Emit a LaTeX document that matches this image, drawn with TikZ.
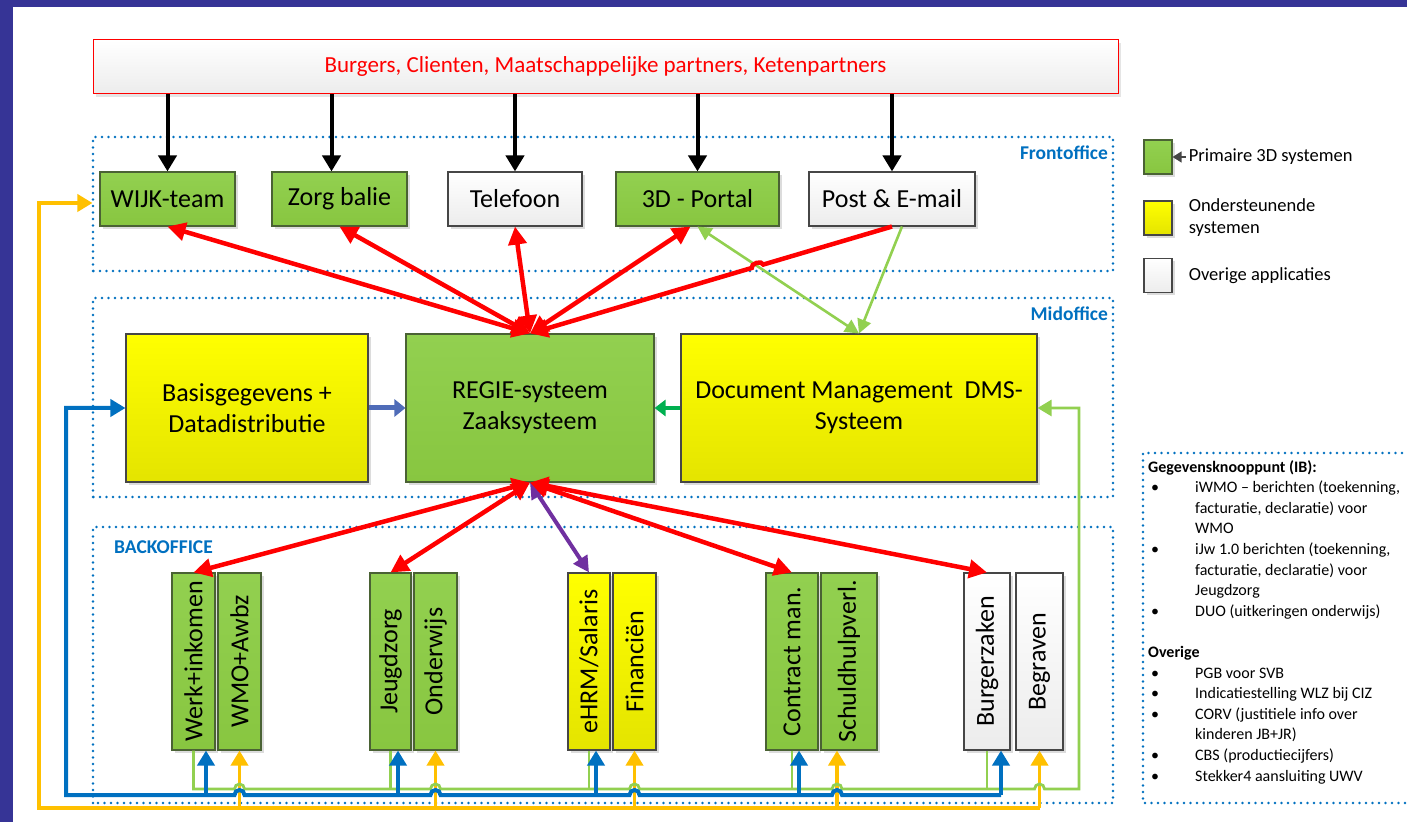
\documentclass[tikz,border=0pt]{standalone}
\usepackage{fontspec}
\setmainfont{Carlito}
\usepackage{graphicx}
\usetikzlibrary{arrows.meta}
\usetikzlibrary{calc}
\usetikzlibrary{shadows}
\usetikzlibrary{intersections}
\usetikzlibrary{positioning}

\definecolor{frameblue}{RGB}{54,52,150}
\definecolor{offblue}{RGB}{0,112,192}
\definecolor{gtop}{RGB}{146,208,80}
\definecolor{gbot}{RGB}{136,198,64}
\definecolor{gborder}{RGB}{74,98,52}
\definecolor{ytop}{RGB}{255,255,0}
\definecolor{ybot}{RGB}{228,228,0}
\definecolor{wbot}{RGB}{236,236,236}
\definecolor{boxgray}{RGB}{70,70,70}
\definecolor{lgreen}{RGB}{146,208,80}
\definecolor{dgreen}{RGB}{0,176,80}
\definecolor{steel}{RGB}{79,108,184}
\definecolor{hrmpurple}{RGB}{112,48,160}
\definecolor{busblue}{RGB}{0,112,192}
\definecolor{busyellow}{RGB}{255,192,0}

\newcommand{\ibpunt}{\makebox[47pt][l]{\hspace*{3pt}\textbullet}}
\newcommand{\ibvolg}{\hspace*{47pt}}

\tikzset{
  office/.style={draw=offblue, line width=2.6pt, dash pattern=on 0pt off 6.5pt, line cap=round},
  officelabel/.style={text=offblue, inner sep=0pt, font=\fontsize{19.5}{23}\selectfont\bfseries},
  sysbox/.style={draw=boxgray, line width=1.1pt, inner sep=1pt, align=center,
    font=\fontsize{26}{31}\selectfont,
    drop shadow={shadow xshift=3pt, shadow yshift=-3pt, opacity=0.3, fill=black!45}},
  primair/.style={sysbox, draw=gborder, top color=gtop, bottom color=gbot},
  steun/.style={sysbox, top color=ytop, bottom color=ybot},
  overig/.style={sysbox, top color=white, bottom color=wbot},
  partners/.style={draw=red, line width=1pt, top color=white, bottom color=wbot, text=red,
    font=\fontsize{23}{27}\selectfont,
    drop shadow={shadow xshift=3pt, shadow yshift=-3pt, opacity=0.25, fill=black!40}},
  frontbox/.style={minimum height=54pt},
  midbox/.style={minimum height=148pt},
  backbox/.style={minimum height=177pt},
  legbox/.style={minimum width=28pt, minimum height=34pt},
  legtext/.style={inner sep=0pt, align=left, font=\fontsize{18.5}{22}\selectfont},
  listtext/.style={inner sep=0pt, align=left, font=\fontsize{16}{20.6}\selectfont},
  zwart/.style={draw=black, line width=4pt, arrows={-Triangle[length=16pt, width=18pt]}},
  rood/.style={draw=red, line width=4.5pt, arrows={Triangle[length=18pt, width=18pt]-Triangle[length=18pt, width=18pt]}},
  roodeind/.style={draw=red, line width=4.5pt, arrows={-Triangle[length=18pt, width=18pt]}},
  groen2/.style={draw=lgreen, line width=2.6pt, arrows={Triangle[length=14pt, width=14pt]-Triangle[length=14pt, width=14pt]}},
  groen1/.style={draw=lgreen, line width=2.6pt, arrows={-Triangle[length=14pt, width=14pt]}},
  staalpijl/.style={draw=steel, line width=5pt, arrows={-Triangle[length=11pt, width=17pt]}},
  dmspijl/.style={draw=dgreen, line width=4.5pt, arrows={-Triangle[length=11pt, width=16pt]}},
  paarspijl/.style={draw=hrmpurple, line width=4pt, arrows={Triangle[length=16pt, width=16pt]-Triangle[length=16pt, width=16pt]}},
  legpijl/.style={draw=boxgray, line width=1.2pt, arrows={-Triangle[length=9pt, width=11pt]}},
  lichtgroen/.style={draw=lgreen, line width=2.8pt},
  lichtgroenpijl/.style={lichtgroen, arrows={-Triangle[length=14pt, width=16pt]}},
  blauw/.style={draw=busblue, line width=4pt, arrows={-Triangle[length=15pt, width=17pt]}},
  geel/.style={draw=busyellow, line width=3.6pt, arrows={-Triangle[length=15pt, width=17pt]}},
}

\begin{document}
\begin{tikzpicture}[x=1pt, y=1pt]
  \useasboundingbox (0,0) rectangle (1407,822);
  % frame
  \fill[white] (0,0) rectangle (1407,822);
  \fill[frameblue] (0,815) rectangle (1407,822);
  \fill[frameblue] (0,0) rectangle (13,822);

  % office areas
  \draw[office] (93,551) rectangle (1113,685);
  \draw[office] (93,325) rectangle (1113,524);
  \draw[office] (93,19) rectangle (1113,295);
  \draw[office] (1415,369) -- (1143,369) -- (1143,19) -- (1415,19);
  \node[officelabel, anchor=east] (frontlabel) at (1108,669) {Frontoffice};
  \node[officelabel, anchor=east] (midlabel) at (1108,508) {Midoffice};
  \node[officelabel, anchor=west] (backlabel) at (114,275) {BACKOFFICE};

  % top
  \node[partners, minimum width=1025pt, minimum height=54pt] (burgers) at (605.5,755)
    {Burgers, Clienten, Maatschappelijke partners, Ketenpartners};

  % frontoffice channels
  \node[primair, frontbox, minimum width=135pt] (wijk) at (167.5,623) {WIJK-team};
  \node[primair, frontbox, minimum width=135pt] (zorg) at (339.5,623) {Zorg balie};
  \node[overig, frontbox, minimum width=134pt] (tel) at (515,623) {Telefoon};
  \node[primair, frontbox, minimum width=163pt] (portal) at (697.5,623) {3D - Portal};
  \node[overig, frontbox, minimum width=166pt] (post) at (892,623) {Post \& E-mail};

  % midoffice
  \node[steun, midbox, minimum width=242pt] (basis) at (247,414) {Basisgegevens +\\Datadistributie};
  \node[primair, midbox, minimum width=248pt] (regie) at (530,414) {REGIE-systeem\\Zaaksysteem};
  \node[steun, midbox, minimum width=356pt] (dms) at (859,414) {Document Management~~DMS-\\Systeem};

  % backoffice
  \node[primair, backbox, minimum width=43pt] (werk) at (193.5,160.5) {\rotatebox{90}{Werk+inkomen}};
  \node[primair, backbox, minimum width=43pt] (wmo) at (239.5,160.5) {\rotatebox{90}{WMO+Awbz}};
  \node[primair, backbox, minimum width=41pt] (jeugd) at (390.5,160.5) {\rotatebox{90}{Jeugdzorg}};
  \node[primair, backbox, minimum width=43pt] (onderwijs) at (435.5,160.5) {\rotatebox{90}{Onderwijs}};
  \node[steun, backbox, minimum width=42pt] (ehrm) at (589,160.5) {\rotatebox{90}{eHRM/Salaris}};
  \node[steun, backbox, minimum width=43pt] (fin) at (634.5,160.5) {\rotatebox{90}{Financiën}};
  \node[primair, backbox, minimum width=52pt] (contract) at (792,160.5) {\rotatebox{90}{Contract man.}};
  \node[primair, backbox, minimum width=56pt] (schuld) at (849,160.5) {\rotatebox{90}{Schuldhulpverl.}};
  \node[overig, backbox, minimum width=46pt] (burger) at (987,160.5) {\rotatebox{90}{Burgerzaken}};
  \node[overig, backbox, minimum width=47pt] (begraven) at (1039.5,160.5) {\rotatebox{90}{Begraven}};

  % legend
  \node[primair, legbox] (leg1) at (1158,665) {};
  \node[steun, legbox] (leg2) at (1158,604) {};
  \node[overig, legbox] (leg3) at (1158,546.5) {};
  \draw[legpijl] ([xshift=13pt]leg1.east) -- (leg1.east);
  \node[legtext, right=16pt of leg1] (leg1txt) {Primaire 3D systemen};
  \node[legtext, right=16pt of leg2] (leg2txt) {Ondersteunende\\systemen};
  \node[legtext, right=16pt of leg3] (leg3txt) {Overige applicaties};

  % Gegevensknooppunt list
  \node[listtext, anchor=north west] (iblist) at (1148,362) {%
    \textbf{Gegevensknooppunt (IB):}\\
    \ibpunt iWMO – berichten (toekenning,\\
    \ibvolg facturatie, declaratie) voor\\
    \ibvolg WMO\\
    \ibpunt iJw 1.0 berichten (toekenning,\\
    \ibvolg facturatie, declaratie) voor\\
    \ibvolg Jeugdzorg\\
    \ibpunt DUO (uitkeringen onderwijs)\\[20.6pt]
    \textbf{Overige}\\
    \ibpunt PGB voor SVB\\
    \ibpunt Indicatiestelling WLZ bij CIZ\\
    \ibpunt CORV (justitiele info over\\
    \ibvolg kinderen JB+JR)\\
    \ibpunt CBS (productiecijfers)\\
    \ibpunt Stekker4 aansluiting UWV};

  % burgers to channels
  \coordinate (zorgin) at ([xshift=-8pt]zorg.north);
  \foreach \doel in {wijk.north, zorgin, tel.north, portal.north, post.north}
    \draw[zwart] (\doel |- burgers.south) -- (\doel);

  % channels <-> regie
  \coordinate (portalin) at ([xshift=-7pt]portal.south);
  \coordinate (postgroen) at ([xshift=10pt]post.south);
  \draw[groen2] (portal.south) -- (dms.north);
  \draw[groen1] (postgroen) -- (dms.north);
  \foreach \doel in {wijk.south, zorg.south, tel.south, portalin}
    \draw[rood] (regie.north) -- (\doel);
  \path[name path=groenlijn] (portal.south) -- (dms.north);
  \path[name path=roodlijn] (post.south) -- (regie.north);
  \path[name intersections={of=groenlijn and roodlijn, by=sprong}];
  \draw[roodeind] (post.south) -- ($(sprong)!6pt!(post.south)$)
    to[bend right=90] ($(sprong)!6pt!(regie.north)$) -- (regie.north);

  % midoffice links
  \draw[staalpijl] (basis.east) -- (regie.west);
  \draw[dmspijl] (dms.west) -- (regie.east);

  % regie <-> backoffice
  \draw[paarspijl] (regie.south) -- (ehrm.north);
  \foreach \doel in {werk, jeugd, contract, burger}
    \draw[rood] (regie.south) -- (\doel.north);

  % bus lines
  \coordinate (gbus) at (0,33);
  \coordinate (bbus) at (0,27);
  \coordinate (ybus) at (0,14);
  \coordinate (blinks) at (66,0);
  \coordinate (ylinks) at (39,0);
  \coordinate (grechts) at (1079,0);
  \coordinate (y1) at (wmo.south);
  \coordinate (y2) at (onderwijs.south);
  \coordinate (y3) at (fin.south);
  \coordinate (y4) at ([xshift=-12pt]schuld.south);
  \coordinate (y5) at (begraven.south);
  \coordinate (b1) at ([xshift=12.5pt]werk.south);
  \coordinate (b2) at ([xshift=7.5pt]jeugd.south);
  \coordinate (b3) at ([xshift=7pt]ehrm.south);
  \coordinate (b4) at ([xshift=7pt]contract.south);
  \coordinate (b5) at ([xshift=14pt]burger.south);
  \coordinate (wijkin) at ([shift={(-7pt,-4pt)}]wijk.west);

  % yellow
  \draw[geel] (y5 |- ybus) -- (ylinks |- ybus) -- (ylinks |- wijkin) -- (wijkin);
  \foreach \i in {1,...,5}
    \draw[geel] (y\i |- ybus) -- (y\i);

  % light green
  \foreach \g in {jeugd, ehrm, contract, burger}
    \draw[lichtgroen] (\g.south) -- (\g.south |- gbus);
  \draw[lichtgroenpijl] (werk.south) |- ($(y1 |- gbus)+(-5pt,0)$) arc (180:0:5pt)
    -- ($(y2 |- gbus)+(-5pt,0)$) arc (180:0:5pt)
    -- ($(y3 |- gbus)+(-5pt,0)$) arc (180:0:5pt)
    -- ($(y4 |- gbus)+(-5pt,0)$) arc (180:0:5pt)
    -- ($(y5 |- gbus)+(-5pt,0)$) arc (180:0:5pt)
    -- (grechts |- gbus) -- (grechts |- dms.east) -- (dms.east);

  % blue
  \draw[blauw] (b5 |- bbus) -- ($(y4 |- bbus)+(5pt,0)$) arc (0:180:5pt)
    -- ($(y3 |- bbus)+(5pt,0)$) arc (0:180:5pt)
    -- ($(y2 |- bbus)+(5pt,0)$) arc (0:180:5pt)
    -- ($(y1 |- bbus)+(5pt,0)$) arc (0:180:5pt)
    -- (blinks |- bbus) -- (blinks |- basis.west) -- (basis.west);
  \foreach \i in {1,...,5}
    \draw[blauw] (b\i |- bbus) -- (b\i);
\end{tikzpicture}
\end{document}
